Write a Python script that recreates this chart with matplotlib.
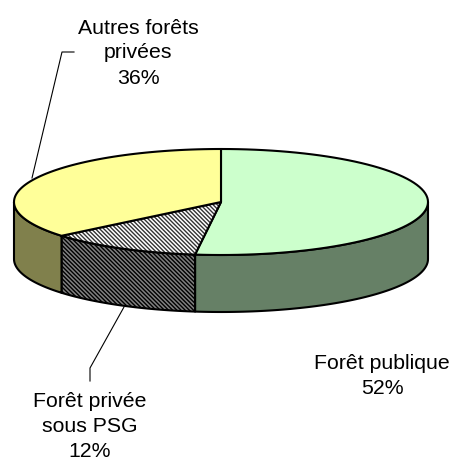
import numpy as np
import matplotlib
matplotlib.use("Agg")
import matplotlib.pyplot as plt
from matplotlib.patches import Polygon

plt.rcParams["font.family"] = ["Liberation Sans", "DejaVu Sans"]
plt.rcParams["hatch.linewidth"] = 1.0

# parts of the forest area, in percent (clockwise from 12 o'clock)
names = ["Forêt publique", "Forêt privée\nsous PSG", "Autres forêts\nprivées"]
shares = [52, 12, 36]
top_colors = ["#ccffcc", "#ffffff", "#ffff99"]
side_colors = ["#668066", "#808080", "#80804c"]
hatches = [None, "\\" * 8, None]
hatch_colors = [None, "#333333", None]

# pie geometry in pixels
cx, cy = 221, 202
a, b = 207, 53
depth = 57

fig = plt.figure(figsize=(4.54, 4.61), dpi=100)
ax = fig.add_axes([0, 0, 1, 1])
ax.set_xlim(0, 454)
ax.set_ylim(461, 0)
ax.axis("off")


def arc(t1, t2, dy=0, n=80):
    t = np.radians(np.linspace(t1, t2, n))
    return np.column_stack([cx + a * np.sin(t), cy - b * np.cos(t) + dy])


def add_poly(pts, face, hatch, hcolor, lw=1.5):
    ax.add_patch(Polygon(pts, closed=True, facecolor=face, edgecolor="none", lw=0))
    if hatch:
        ax.add_patch(Polygon(pts, closed=True, facecolor="none", edgecolor=hcolor,
                             hatch=hatch, lw=0))
    ax.add_patch(Polygon(pts, closed=True, facecolor="none", edgecolor="black",
                         lw=lw, joinstyle="round"))


bounds = np.concatenate([[0], np.cumsum(shares)]) / sum(shares) * 360

# front side walls
for i in range(len(shares)):
    lo, hi = max(bounds[i], 90), min(bounds[i + 1], 270)
    if hi <= lo:
        continue
    pts = np.vstack([arc(lo, hi), arc(hi, lo, dy=depth)])
    dark_hatch = "black" if hatches[i] else None
    add_poly(pts, side_colors[i], hatches[i], dark_hatch)

# top faces
for i in range(len(shares)):
    pts = np.vstack([[cx, cy], arc(bounds[i], bounds[i + 1])])
    add_poly(pts, top_colors[i], hatches[i], hatch_colors[i])

fs = 15.3
ls = 1.4
ax.text(382, 376, f"{names[0]}\n{shares[0]}%", ha="center", va="center",
        fontsize=fs, linespacing=ls)
ax.text(90, 426, f"{names[1]}\n{shares[1]}%", ha="center", va="center",
        fontsize=fs, linespacing=ls)
ax.text(138, 53, f"{names[2]}\n{shares[2]}%", ha="center", va="center",
        fontsize=fs, linespacing=ls)

# leader lines
ax.plot([74, 62, 32], [52, 52, 178], color="black", lw=0.8)
ax.plot([90, 90, 124], [381, 368, 307], color="black", lw=0.8)

fig.savefig("out.png", dpi=100)
